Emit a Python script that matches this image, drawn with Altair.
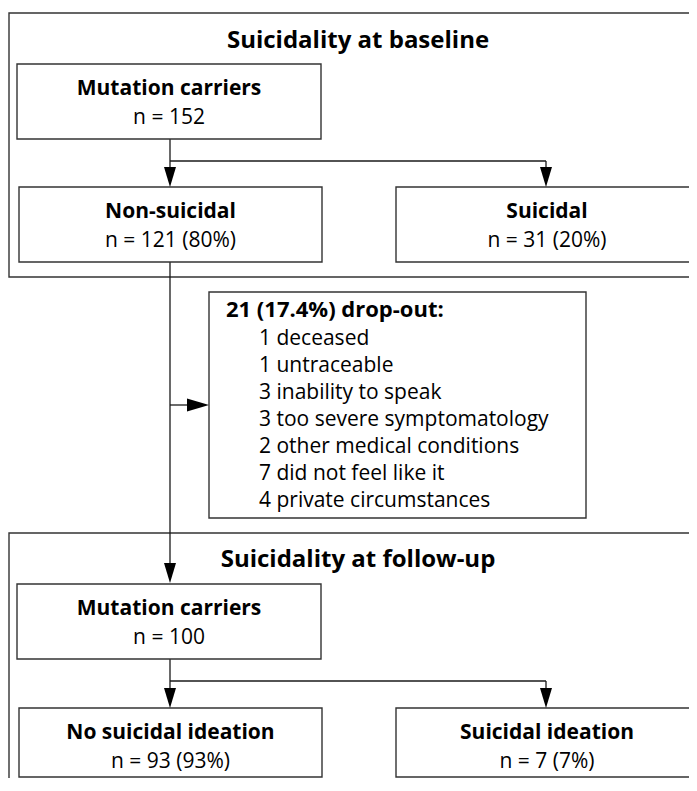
import altair as alt
import pandas as pd

# ---- content ----
section_titles = ["Suicidality at baseline", "Suicidality at follow-up"]
box_titles = ["Mutation carriers", "Non-suicidal", "Suicidal",
              "Mutation carriers", "No suicidal ideation", "Suicidal ideation"]
box_counts = ["n = 152", "n = 121 (80%)", "n = 31 (20%)",
              "n = 100", "n = 93 (93%)", "n = 7 (7%)"]
dropout_header = "21 (17.4%) drop-out:"
dropout_reasons = ["1 deceased", "1 untraceable", "3 inability to speak",
                   "3 too severe symptomatology", "2 other medical conditions",
                   "7 did not feel like it", "4 private circumstances"]

# ---- layout (page pixel coordinates) ----
W, H = 681, 770
X0, Y0 = 8, 8
section_box = [(9, 13, 710, 277), (9, 533, 710, 820)]
section_title_pos = [(358, 48), (358, 567)]
box_pos = [(17, 64, 321, 139), (19, 187, 322, 262), (396, 187, 698, 262),
           (17, 584, 321, 659), (19, 708, 322, 777), (396, 708, 698, 777)]
dropout_box = (209, 292, 586, 518)
dropout_header_pos = (226, 317)
dropout_item_x = 259
dropout_item_y = [345, 372, 399, 426, 453, 480, 507]

lines = [  # x, y, x2, y2
    (170, 139, 170, 180), (170, 161, 546, 161), (546, 161, 546, 180),
    (170, 262, 170, 576), (170, 405, 200, 405),
    (170, 659, 170, 700), (170, 681, 546, 681), (546, 681, 546, 700),
]
down_tips = [(170, 187), (546, 187), (170, 583), (170, 708), (546, 708)]
right_tips = [(209, 405)]

xs = alt.Scale(domain=[X0, X0 + W], range=[0, W])
ys = alt.Scale(domain=[Y0, Y0 + H], range=[0, H])

def X(f="x"): return alt.X(f"{f}:Q", scale=xs, axis=None)
def Y(f="y"): return alt.Y(f"{f}:Q", scale=ys, axis=None)

LINE = "#333333"

sec_df = pd.DataFrame(section_box, columns=["x", "y", "x2", "y2"])
sec = alt.Chart(sec_df).mark_rect(fill="white", stroke=LINE, strokeWidth=1.4, clip=True).encode(
    x=X(), x2="x2:Q", y=Y(), y2="y2:Q")

ln_df = pd.DataFrame(lines, columns=["x", "y", "x2", "y2"])
ln = alt.Chart(ln_df).mark_rule(color="#1a1a1a", strokeWidth=1.3, clip=True).encode(
    x=X(), x2="x2:Q", y=Y(), y2="y2:Q")

bx_df = pd.DataFrame(box_pos + [dropout_box], columns=["x", "y", "x2", "y2"])
bx = alt.Chart(bx_df).mark_rect(fill="white", stroke=LINE, strokeWidth=1.4, clip=True).encode(
    x=X(), x2="x2:Q", y=Y(), y2="y2:Q")

down_df = pd.DataFrame(down_tips, columns=["x", "y"])
down = alt.Chart(down_df).mark_point(
    shape="M -0.6 -2 L 0.6 -2 L 0 0 Z", size=400, filled=True, color="black", opacity=1
).encode(x=X(), y=Y())

right_df = pd.DataFrame(right_tips, columns=["x", "y"])
right = alt.Chart(right_df).mark_point(
    shape="M -2 -0.6 L -2 0.6 L 0 0 Z", size=484, filled=True, color="black", opacity=1
).encode(x=X(), y=Y())

FONT = "Open Sans"

st_df = pd.DataFrame({"t": section_titles,
                      "x": [p[0] for p in section_title_pos],
                      "y": [p[1] for p in section_title_pos]})
st = alt.Chart(st_df).mark_text(font=FONT, fontSize=24, fontWeight="bold", align="center",
                                baseline="alphabetic", color="black").encode(x=X(), y=Y(), text="t:N")

bt_df = pd.DataFrame({"t": box_titles,
                      "x": [(b[0] + b[2]) / 2 for b in box_pos],
                      "y": [b[1] + 31 for b in box_pos]})
bt = alt.Chart(bt_df).mark_text(font=FONT, fontSize=21, fontWeight="bold", align="center",
                                baseline="alphabetic", color="black").encode(x=X(), y=Y(), text="t:N")

bc_df = pd.DataFrame({"t": box_counts,
                      "x": [(b[0] + b[2]) / 2 for b in box_pos],
                      "y": [b[1] + 60 for b in box_pos]})
bc = alt.Chart(bc_df).mark_text(font=FONT, fontSize=21, align="center",
                                baseline="alphabetic", color="black").encode(x=X(), y=Y(), text="t:N")

dh_df = pd.DataFrame({"t": [dropout_header], "x": [dropout_header_pos[0]], "y": [dropout_header_pos[1]]})
dh = alt.Chart(dh_df).mark_text(font=FONT, fontSize=22, fontWeight="bold", align="left",
                                baseline="alphabetic", color="black").encode(x=X(), y=Y(), text="t:N")

di_df = pd.DataFrame({"t": dropout_reasons, "x": [dropout_item_x] * len(dropout_reasons), "y": dropout_item_y})
di = alt.Chart(di_df).mark_text(font=FONT, fontSize=21, align="left",
                                baseline="alphabetic", color="black").encode(x=X(), y=Y(), text="t:N")

chart = alt.layer(sec, ln, bx, down, right, st, bt, bc, dh, di).properties(
    width=W, height=H, padding=0, autosize=alt.AutoSizeParams(type="none")
).configure_view(stroke=None)

chart.save("out.html", embed_options={"renderer": "svg", "actions": False})
